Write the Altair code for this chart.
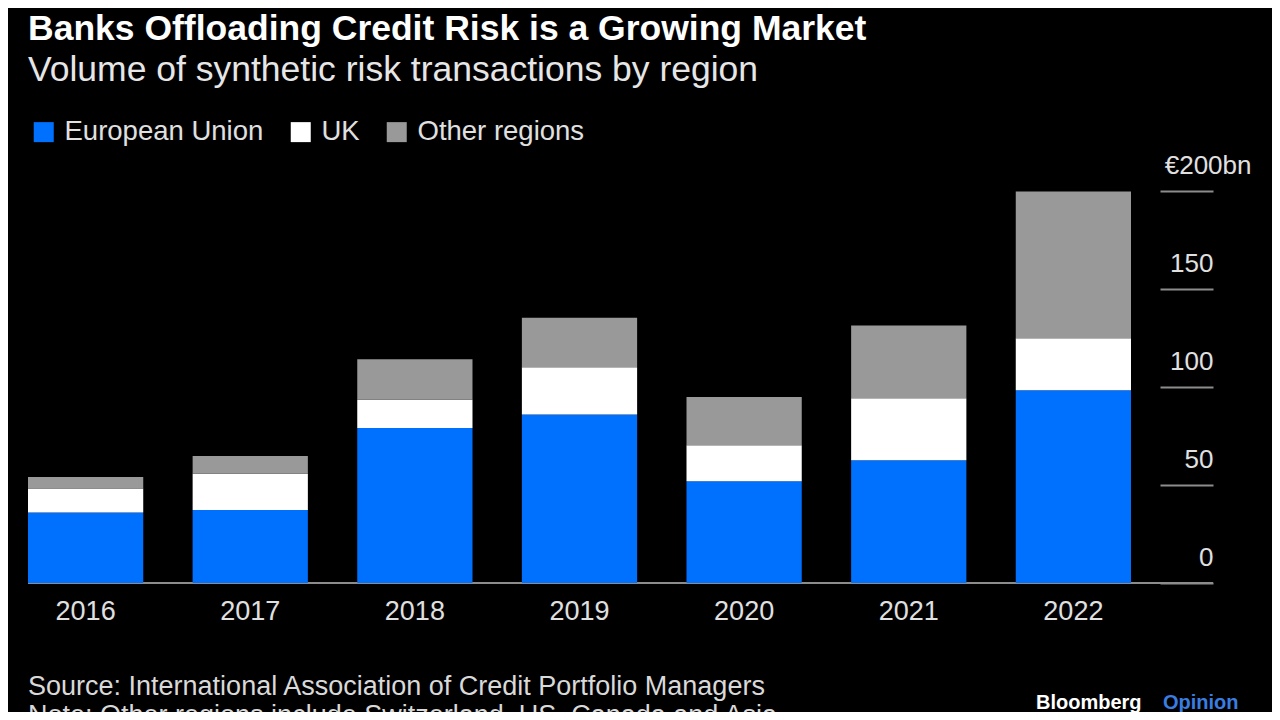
import altair as alt
import pandas as pd

# ---- data ----
years = ["2016", "2017", "2018", "2019", "2020", "2021", "2022"]
eu = [36.0, 37.2, 79.1, 86.0, 51.9, 62.6, 98.3]
uk = [12.2, 18.5, 14.4, 24.1, 18.4, 31.7, 26.6]
other = [5.9, 9.1, 20.6, 25.2, 24.6, 37.1, 74.8]
regions = ["European Union", "UK", "Other regions"]
colors = ["#0070FF", "#FFFFFF", "#999999"]
y_ticks = [0, 50, 100, 150, 200]

title_text = "Banks Offloading Credit Risk is a Growing Market"
subtitle_text = "Volume of synthetic risk transactions by region"
source_text = "Source: International Association of Credit Portfolio Managers"
note_text = "Note: Other regions include Switzerland, US, Canada and Asia"
brand1 = "Bloomberg"
brand2 = "Opinion"

FONT = "Liberation Sans"
W, H = 1103, 392

rows = []
for i, yr in enumerate(years):
    for k, (name, vals) in enumerate(zip(regions, [eu, uk, other])):
        rows.append({"year": yr, "region": name, "value": vals[i], "k": k})
df = pd.DataFrame(rows)

baseline = alt.Chart(pd.DataFrame({"a": [0]})).mark_rule(
    color="#8c8c8c", strokeWidth=2
).encode(y=alt.datum(0), x=alt.value(0), x2=alt.value(1185))

bars = alt.Chart(df).mark_bar().encode(
    x=alt.X(
        "year:N", sort=years,
        scale=alt.Scale(paddingInner=0.3, paddingOuter=0),
        axis=alt.Axis(title=None, domain=False, ticks=False, labelAngle=0,
                      labelFontSize=27, labelColor="#e0e0e0", labelFont=FONT,
                      labelPadding=15),
    ),
    y=alt.Y(
        "value:Q", stack="zero",
        scale=alt.Scale(domain=[0, 200], nice=False),
        axis=alt.Axis(title=None, orient="right", offset=29, values=y_ticks,
                      domain=False, grid=False, ticks=True, tickSize=53,
                      tickColor="#8c8c8c", tickWidth=2,
                      labelAlign="right", labelBaseline="alphabetic",
                      labelOffset=-18,
                      labelPadding={"condition": {"test": "datum.value == 200", "value": 38}, "value": 0},
                      labelExpr="datum.value == 200 ? '€200bn' : datum.label",
                      labelFontSize=26, labelColor="#e0e0e0", labelFont=FONT),
    ),
    color=alt.Color(
        "region:N",
        scale=alt.Scale(domain=regions, range=colors),
        legend=alt.Legend(title=None, orient="none", legendX=2, legendY=-73,
                          direction="horizontal", symbolType="square",
                          symbolSize=400, symbolStrokeWidth=0,
                          labelFontSize=27.5, labelColor="#e0e0e0", labelFont=FONT,
                          labelOffset=7, columnPadding=23, labelLimit=400),
    ),
    order=alt.Order("k:Q", sort="ascending"),
)


def txt(text, x, y, size, color, weight="normal"):
    return alt.Chart(pd.DataFrame({"t": [text]})).mark_text(
        align="left", baseline="alphabetic", fontSize=size, font=FONT,
        fontWeight=weight, color=color
    ).encode(x=alt.value(x), y=alt.value(y), text="t:N")


texts = [
    txt(title_text, 0, -151, 35.5, "#ffffff", "bold"),
    txt(subtitle_text, 0, -110, 35.5, "#e6e6e6"),
    txt(source_text, 0, 504, 27, "#d9d9d9"),
    txt(note_text, 0, 533, 27, "#d9d9d9"),
    txt(brand1, 1008, 518, 20, "#ffffff", "bold"),
    txt(brand2, 1135, 518, 20, "#3a7de0", "bold"),
]

chart = alt.layer(baseline, bars, *texts).properties(
    width=W, height=H,
    padding={"left": 20, "top": 183, "right": 141, "bottom": 129},
    autosize=alt.AutoSizeParams(type="none"),
    background="#000000",
).configure_view(stroke=None)

chart.save("out.html", embed_options={"renderer": "svg", "actions": False})
